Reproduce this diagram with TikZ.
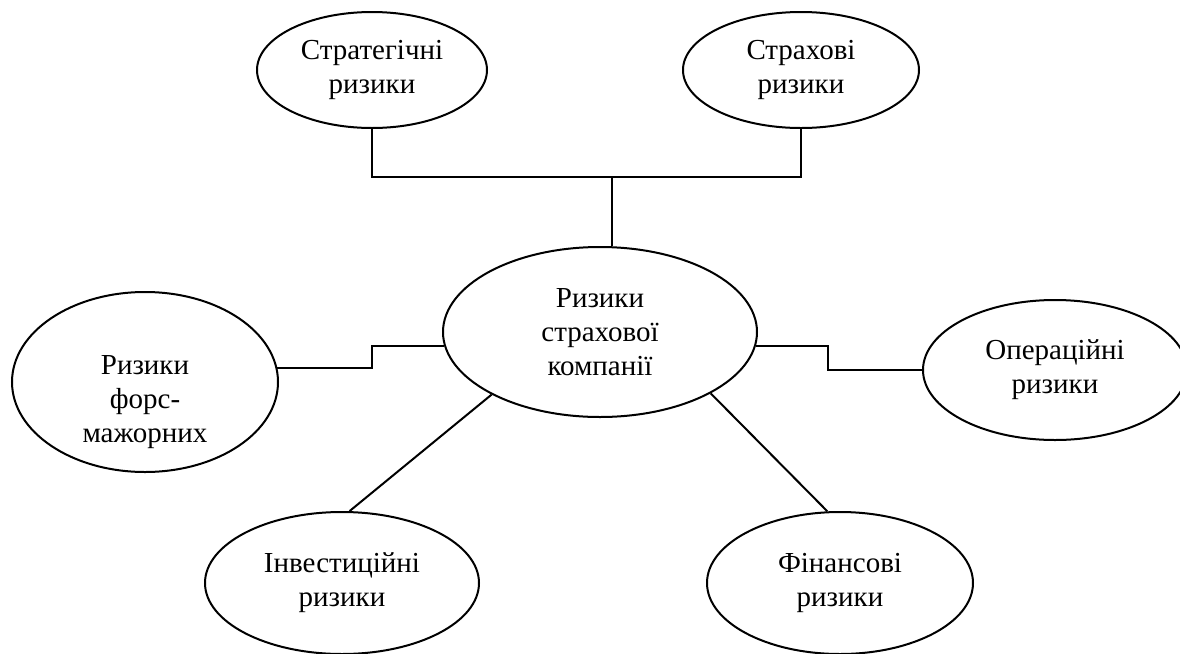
\documentclass[tikz,border=0pt]{standalone}
\usepackage{fontspec}
\setmainfont{Liberation Serif}
\usetikzlibrary{shapes.geometric}

\begin{document}
\begin{tikzpicture}[
    x=0.5pt, y=-0.5pt,
    every node/.style={align=center, font=\fontsize{14.5}{17}\selectfont},
    risk/.style={draw, ellipse, line width=1pt, inner sep=0pt},
    link/.style={draw, line width=1pt}
]
    \useasboundingbox (0,0) rectangle (1180,654);
    % centre and the risk groups round it
    \node[risk, minimum width=157pt, minimum height=85pt] (centre) at (600,332) {Ризики\\страхової\\компанії};
    \node[risk, minimum width=115pt, minimum height=58pt] (strat) at (372,70) {Стратегічні\\ризики};
    \node[risk, minimum width=118pt, minimum height=58pt] (strakh) at (801,70) {Страхові\\ризики};
    \node[risk, minimum width=133pt, minimum height=90pt] (force) at (145,382) {};
    \node (forcelbl) at ([yshift=-10pt]force.center) {Ризики\\форс-\\мажорних};
    \node[risk, minimum width=132pt, minimum height=70pt] (oper) at (1055,370) {Операційні\\ризики};
    \node[risk, minimum width=137pt, minimum height=71pt] (invest) at (342,583) {Інвестиційні\\ризики};
    \node[risk, minimum width=133pt, minimum height=71pt] (fin) at (840,583) {Фінансові\\ризики};

    % connectors
    \coordinate (join) at (612,177);
    \coordinate (lbend) at (372,369);
    \coordinate (rbend) at (828,369);
    \draw[link] (strat.south) |- (join) -| (strakh.south);
    \draw[link] (join) -- (join |- centre.north);
    \draw[link] (force.6) -- (force.6 -| lbend) |- (centre.185);
    \draw[link] (centre.355) -- (centre.355 -| rbend) |- (oper.west);
    \draw[link] (centre.210) -- (invest.84);
    \draw[link] (centre.331) -- (fin.100);
\end{tikzpicture}
\end{document}
